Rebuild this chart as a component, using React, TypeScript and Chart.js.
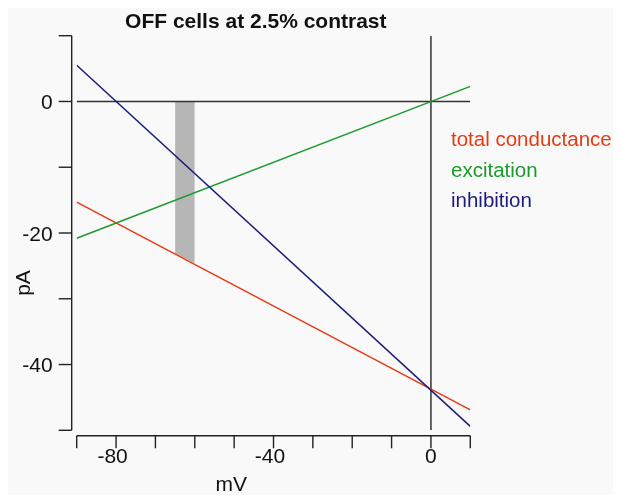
import React, { useEffect, useRef } from "react";
import { Chart, registerables } from "chart.js";

Chart.register(...registerables);

// Data (mV on x, pA on y)
const voltageEnds = [-90, 10];
const totalConductance = [-15.3, -46.9];
const excitation = [-20.8, 2.3];
const inhibition = [5.5, -49.4];
const shadeVoltages = [-65, -60];
const shadeCurrents = [-23.1, -24.6];

const xTickValues = [-90, -80, -70, -60, -50, -40, -30, -20, -10, 0, 10];
const xTickLabels = [-80, -40, 0];
const yTickValues = [10, 0, -10, -20, -30, -40, -50];
const yTickLabels = [0, -20, -40];

const seriesNames = ["total conductance", "excitation", "inhibition"];
const seriesColors = ["#e63a14", "#1d9a2e", "#1c1c7c"];

const titleText = "OFF cells at 2.5% contrast";
const FONT = '"Liberation Sans", Arial, Helvetica, sans-serif';

const pts = (xs: number[], ys: number[]) => xs.map((x, i) => ({ x, y: ys[i] }));

const decorPlugin = {
  id: "decor",
  beforeDraw(chart: any) {
    const c = chart.ctx;
    c.save();
    c.fillStyle = "#f9f9f9";
    c.fillRect(0, 0, chart.width, chart.height);
    c.restore();
  },
  afterDraw(chart: any) {
    const c = chart.ctx;
    const xs = chart.scales.x;
    const ys = chart.scales.y;
    const area = chart.chartArea;
    c.save();
    c.strokeStyle = "#222";
    c.fillStyle = "#111";
    c.lineWidth = 1.4;

    // y axis (offset left of plot)
    const yAxisX = area.left - 5;
    c.beginPath();
    c.moveTo(yAxisX, ys.getPixelForValue(10));
    c.lineTo(yAxisX, ys.getPixelForValue(-50));
    c.stroke();
    yTickValues.forEach((v) => {
      const py = ys.getPixelForValue(v);
      c.beginPath();
      c.moveTo(yAxisX - 13, py);
      c.lineTo(yAxisX, py);
      c.stroke();
    });
    c.font = `21px ${FONT}`;
    c.textAlign = "right";
    c.textBaseline = "alphabetic";
    yTickLabels.forEach((v) => {
      const py = ys.getPixelForValue(v);
      c.fillText(String(v), yAxisX - 19, py + 7.8);
    });

    // x axis (offset below plot)
    const xAxisY = area.bottom + 5.4;
    c.beginPath();
    c.moveTo(xs.getPixelForValue(-90), xAxisY);
    c.lineTo(xs.getPixelForValue(10), xAxisY);
    c.stroke();
    xTickValues.forEach((v) => {
      const px = xs.getPixelForValue(v);
      c.beginPath();
      c.moveTo(px, xAxisY);
      c.lineTo(px, xAxisY + 12.6);
      c.stroke();
    });
    c.textAlign = "left";
    xTickLabels.forEach((v) => {
      const px = xs.getPixelForValue(v);
      const body = String(Math.abs(v));
      const minus = v < 0 ? c.measureText("-").width : 0;
      const x0 = px - c.measureText(body).width / 2 - minus;
      c.fillText(String(v), x0, xAxisY + 27.3);
    });

    // axis titles
    c.textAlign = "center";
    c.fillText("mV", 223.3, 482.7);
    c.save();
    c.translate(16, 275);
    c.rotate(-Math.PI / 2);
    c.textBaseline = "middle";
    c.fillText("pA", 0, 0);
    c.restore();

    // title
    c.font = `bold 21px ${FONT}`;
    c.textAlign = "center";
    c.textBaseline = "alphabetic";
    c.fillText(titleText, 247.8, 20.3);

    // legend text
    c.font = `20.5px ${FONT}`;
    c.textAlign = "left";
    const baselines = [138, 168.7, 199.3];
    seriesNames.forEach((n, i) => {
      c.fillStyle = seriesColors[i];
      c.fillText(n, 443, baselines[i]);
    });
    c.restore();
  },
};

export default function App() {
  const ref = useRef<HTMLCanvasElement>(null);
  useEffect(() => {
    const chart = new Chart(ref.current as HTMLCanvasElement, {
      type: "line",
      data: {
        datasets: [
          {
            label: seriesNames[2],
            data: pts(voltageEnds, inhibition),
            borderColor: seriesColors[2],
            borderWidth: 1.5,
            pointRadius: 0,
            order: 1,
          },
          {
            label: seriesNames[1],
            data: pts(voltageEnds, excitation),
            borderColor: seriesColors[1],
            borderWidth: 1.5,
            pointRadius: 0,
            order: 2,
          },
          {
            label: seriesNames[0],
            data: pts(voltageEnds, totalConductance),
            borderColor: seriesColors[0],
            borderWidth: 1.5,
            pointRadius: 0,
            order: 3,
          },
          {
            label: "shade",
            data: pts(shadeVoltages, shadeCurrents),
            borderWidth: 0,
            borderColor: "rgba(0,0,0,0)",
            backgroundColor: "#b6b6b6",
            fill: "origin",
            pointRadius: 0,
            order: 5,
          },
          {
            label: "zeroH",
            data: pts(voltageEnds, [0, 0]),
            borderColor: "#333",
            borderWidth: 1.5,
            pointRadius: 0,
            order: 4,
          },
          {
            label: "zeroV",
            data: pts([0, 0], [10, -50]),
            borderColor: "#333",
            borderWidth: 1.5,
            pointRadius: 0,
            order: 4,
          },
        ],
      },
      options: {
        responsive: true,
        maintainAspectRatio: false,
        devicePixelRatio: 1,
        animation: false,
        layout: { padding: { left: 68.7, top: 27.7, right: 150.7, bottom: 72.7 } },
        scales: {
          x: { type: "linear", min: -90, max: 10, display: false },
          y: { type: "linear", min: -50, max: 10, display: false },
        },
        plugins: {
          legend: { display: false },
          tooltip: { enabled: false },
          title: { display: false },
        },
      },
      plugins: [decorPlugin],
    } as any);
    return () => chart.destroy();
  }, []);
  return (
    <div style={{ width: 605, height: 487 }}>
      <div style={{ position: "relative", width: 613, height: 495 }}>
        <canvas ref={ref} />
      </div>
    </div>
  );
}
